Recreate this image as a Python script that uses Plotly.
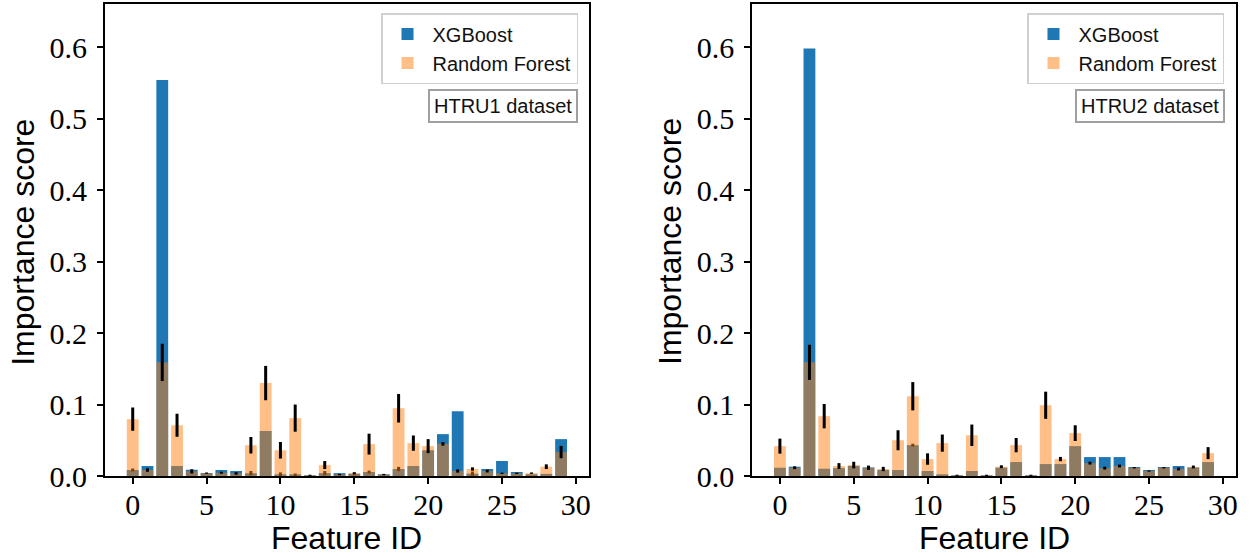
import plotly.graph_objects as go
from plotly.subplots import make_subplots

features = list(range(30))
x_ticks = [0, 5, 10, 15, 20, 25, 30]
y_ticks = [0.0, 0.1, 0.2, 0.3, 0.4, 0.5, 0.6]
y_tick_labels = ["0.0", "0.1", "0.2", "0.3", "0.4", "0.5", "0.6"]

# HTRU1
xgb_htru1 = [0.0084, 0.014, 0.554, 0.014, 0.0088, 0.0042, 0.0084, 0.007, 0.004, 0.063,
             0.002, 0.0015, 0.0005, 0.004, 0.004, 0.003, 0.0056, 0.001, 0.0098, 0.014,
             0.036, 0.0586, 0.0907, 0.0033, 0.0098, 0.021, 0.0056, 0.002, 0.003, 0.0516]
xgb_htru1_err = [0.002, 0.0, 0.0, 0.0, 0.0, 0.0, 0.0, 0.0, 0.003, 0.0,
                 0.003, 0.002, 0.0, 0.003, 0.0, 0.002, 0.002, 0.0, 0.003, 0.0,
                 0.0, 0.0, 0.0, 0.003, 0.0, 0.0, 0.0, 0.0, 0.0, 0.0]
rf_htru1 = [0.0795, 0.0084, 0.159, 0.071, 0.0065, 0.004, 0.0046, 0.0037, 0.043, 0.130,
            0.036, 0.081, 0.001, 0.0153, 0.002, 0.004, 0.0446, 0.002, 0.0948, 0.046,
            0.0418, 0.045, 0.007, 0.0098, 0.007, 0.0037, 0.0037, 0.004, 0.013, 0.0335]
rf_htru1_err = [0.0163, 0.0023, 0.026, 0.016, 0.003, 0.001, 0.0015, 0.002, 0.0116, 0.024,
                0.0116, 0.019, 0.0008, 0.0056, 0.001, 0.001, 0.0146, 0.001, 0.020, 0.0107,
                0.0098, 0.0025, 0.0023, 0.0023, 0.002, 0.001, 0.001, 0.001, 0.0033, 0.0086]

# HTRU2
xgb_htru2 = [0.0116, 0.013, 0.598, 0.0102, 0.011, 0.014, 0.012, 0.0084, 0.0084, 0.0432,
             0.007, 0.0015, 0.0005, 0.007, 0.0005, 0.0116, 0.0195, 0.0005, 0.0167, 0.0167,
             0.0418, 0.0265, 0.0265, 0.0265, 0.0126, 0.0084, 0.0126, 0.014, 0.012, 0.0195]
xgb_htru2_err = [0.0, 0.0, 0.0, 0.0, 0.0, 0.0, 0.0, 0.0, 0.0, 0.002,
                 0.0, 0.0, 0.0, 0.0, 0.0, 0.0, 0.0, 0.0, 0.0, 0.0,
                 0.0, 0.0, 0.0, 0.0, 0.0, 0.0, 0.0, 0.0, 0.0, 0.0]
rf_htru2 = [0.0418, 0.0116, 0.159, 0.0837, 0.014, 0.0153, 0.0116, 0.0098, 0.050, 0.1116,
            0.0237, 0.046, 0.001, 0.057, 0.001, 0.013, 0.0432, 0.001, 0.099, 0.0237,
            0.060, 0.018, 0.011, 0.014, 0.0116, 0.007, 0.0116, 0.0098, 0.0126, 0.032]
rf_htru2_err = [0.0105, 0.002, 0.0246, 0.017, 0.004, 0.0046, 0.003, 0.003, 0.014, 0.0198,
                0.008, 0.012, 0.0008, 0.015, 0.0008, 0.002, 0.010, 0.0008, 0.019, 0.003,
                0.011, 0.002, 0.002, 0.002, 0.001, 0.001, 0.001, 0.002, 0.002, 0.0084]

panels = [
    ("HTRU1 dataset", xgb_htru1, xgb_htru1_err, rf_htru1, rf_htru1_err),
    ("HTRU2 dataset", xgb_htru2, xgb_htru2_err, rf_htru2, rf_htru2_err),
]

BLUE = "#1f77b4"
ORANGE_A = "rgba(255,127,14,0.5)"
TICK_FONT = dict(family="Liberation Serif, DejaVu Serif, serif", size=30, color="black")
SANS = "Liberation Sans, Arial, sans-serif"

fig = make_subplots(rows=1, cols=2)

for i, (name, xgb, xgb_err, rf, rf_err) in enumerate(panels):
    col = i + 1
    leg = "legend" if i == 0 else "legend2"
    fig.add_trace(go.Bar(
        x=features, y=xgb, width=0.8, name="XGBoost",
        marker=dict(color=BLUE, line=dict(width=0)),
        error_y=dict(type="data", array=xgb_err, visible=True, color="black", thickness=3, width=0),
        legend=leg,
    ), row=1, col=col)
    fig.add_trace(go.Bar(
        x=features, y=rf, width=0.8, name="Random Forest",
        marker=dict(color=ORANGE_A, line=dict(width=0)),
        error_y=dict(type="data", array=rf_err, visible=True, color="black", thickness=3, width=0),
        legend=leg,
    ), row=1, col=col)

x_domains = [[104.8 / 1250, 589 / 1250], [752 / 1250, 1236 / 1250]]
y_domain = [(558 - 476) / 558, (558 - 4.3) / 558]

axis_common = dict(
    showline=True, linecolor="black", linewidth=1.6, mirror=True,
    ticks="outside", ticklen=6, tickwidth=1.6, tickcolor="black",
    showgrid=False, zeroline=False, tickfont=TICK_FONT, automargin=False,
)
for i in range(2):
    fig.update_xaxes(domain=x_domains[i], range=[-1.89, 30.89], tickvals=x_ticks,
                     ticklabelstandoff=-5, row=1, col=i + 1, **axis_common)
    fig.update_yaxes(domain=y_domain, range=[0, 0.66], tickvals=y_ticks, ticktext=y_tick_labels,
                     ticklabelstandoff=4, row=1, col=i + 1, **axis_common)

legend_common = dict(
    xanchor="right", yanchor="top", bgcolor="rgba(255,255,255,0.8)",
    bordercolor="#d0d0d0", borderwidth=1.5,
    font=dict(family=SANS, size=20, color="#111111"),
    tracegroupgap=0, itemwidth=40,
)
fig.update_layout(
    barmode="overlay",
    width=1250, height=558,
    margin=dict(l=0, r=0, t=0, b=0),
    plot_bgcolor="white", paper_bgcolor="white",
    legend=dict(x=578 / 1250, y=(558 - 13) / 558, **legend_common),
    legend2=dict(x=1224 / 1250, y=(558 - 13) / 558, **legend_common),
)

annotations = []
label_font = dict(family=SANS, size=32, color="black")
for i, (name, *_rest) in enumerate(panels):
    xd = x_domains[i]
    annotations.append(dict(
        text="Feature ID", xref="paper", yref="paper",
        x=(xd[0] + xd[1]) / 2, y=0, xanchor="center", yanchor="bottom",
        showarrow=False, font=label_font,
    ))
    annotations.append(dict(
        text="Importance score", xref="paper", yref="paper", textangle=-90,
        x=xd[0] - 82 / 1250, y=(558 - 242) / 558, xanchor="center", yanchor="middle",
        showarrow=False, font=label_font,
    ))
    annotations.append(dict(
        text=name, xref="paper", yref="paper",
        x=xd[1] - 11 / 1250, y=(558 - 89) / 558, xanchor="right", yanchor="top",
        showarrow=False, font=dict(family=SANS, size=20, color="#111111"),
        bordercolor="#a0a0a0", borderwidth=2, borderpad=4, bgcolor="white",
    ))
fig.update_layout(annotations=annotations)

fig.write_html("out.html", config={"displayModeBar": False},
               post_script="document.body.style.margin='0px';")
